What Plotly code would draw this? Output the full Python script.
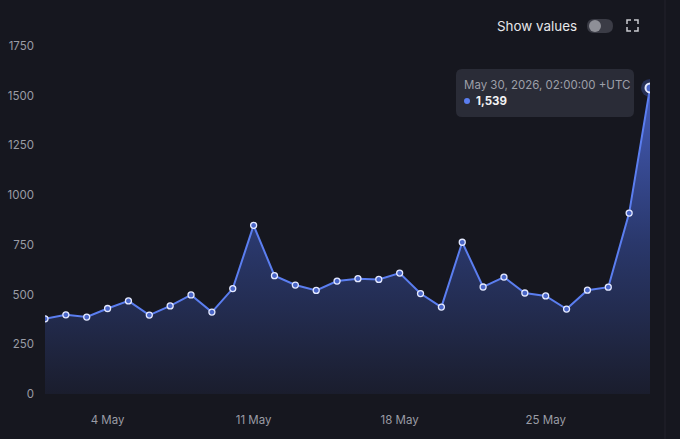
import plotly.graph_objects as go

# daily counts, May 2026
dates = [f"2026-05-{d:02d}" for d in range(1, 31)]
values = [378, 398, 387, 430, 468, 397, 443, 498, 412, 530,
          848, 595, 548, 521, 568, 580, 576, 608, 505, 437,
          763, 538, 588, 508, 493, 427, 522, 537, 910, 1539]

y_ticks = [0, 250, 500, 750, 1000, 1250, 1500, 1750]
x_tickvals = ["2026-05-04", "2026-05-11", "2026-05-18", "2026-05-25"]
x_ticktext = ["4 May", "11 May", "18 May", "25 May"]

hover_date = "May 30, 2026, 02:00:00 +UTC"
hover_value = "1,539"

BG = "#16171f"
LINE = "#5b7ef0"

W, H = 680, 439
L, R, T, B = 45, 30, 46, 45
pw, ph = W - L - R, H - T - B


def px(x):
    return (x - L) / pw


def py(y):
    return (H - B - y) / ph


def rounded(x0, y0, x1, y1, r):
    # rounded rect path in paper coords from pixel coords
    a, b, c, d = px(x0), py(y0), px(x1), py(y1)
    rx, ry = r / pw, r / ph
    return (f"M{a+rx},{b} L{c-rx},{b} Q{c},{b} {c},{b-ry} L{c},{d+ry} "
            f"Q{c},{d} {c-rx},{d} L{a+rx},{d} Q{a},{d} {a},{d+ry} "
            f"L{a},{b-ry} Q{a},{b} {a+rx},{b} Z")


fig = go.Figure()

fig.add_trace(go.Scatter(
    x=dates, y=values, mode="lines+markers",
    line=dict(color=LINE, width=2),
    marker=dict(size=6, color="#4a66c8", line=dict(color="#e4e9ff", width=1.3)),
    fill="tozeroy",
    fillgradient=dict(type="vertical",
                      colorscale=[[0, "rgba(26,29,45,1)"], [0.5, "rgba(42,56,108,1)"],
                                  [1, "rgba(68,92,185,1)"]]),
    hoverinfo="skip", showlegend=False))

# highlighted (hovered) last point
fig.add_trace(go.Scatter(
    x=[dates[-1]], y=[values[-1]], mode="markers",
    marker=dict(size=18, color="rgba(70,95,190,0.35)"),
    hoverinfo="skip", showlegend=False))
fig.add_trace(go.Scatter(
    x=[dates[-1]], y=[values[-1]], mode="markers",
    marker=dict(size=9, color="#4a66c8", line=dict(color="#e4e9ff", width=2)),
    hoverinfo="skip", showlegend=False))

shapes = [
    # tooltip box
    dict(type="path", xref="paper", yref="paper", path=rounded(456, 69, 634, 117, 6),
         fillcolor="#2a2c37", line=dict(width=0), layer="above"),
    # toggle
    dict(type="path", xref="paper", yref="paper", path=rounded(587, 19, 613, 33, 7),
         fillcolor="#3b3c46", line=dict(width=0)),
    dict(type="circle", xref="paper", yref="paper",
         x0=px(589), x1=px(601), y0=py(20), y1=py(32),
         fillcolor="#8e8f97", line=dict(width=0)),
    # divider on the right
    dict(type="line", xref="paper", yref="paper", x0=px(665), x1=px(665), y0=py(0), y1=py(439),
         line=dict(color="#22232c", width=1)),
    # tooltip dot
    dict(type="circle", xref="paper", yref="paper",
         x0=px(464), x1=px(470), y0=py(98), y1=py(104),
         fillcolor="#5b7ef0", line=dict(width=0), layer="above"),
]
# fullscreen icon corners
for (cx, cy, dx, dy) in [(627, 20, 1, 1), (638, 20, -1, 1), (627, 31, 1, -1), (638, 31, -1, -1)]:
    shapes.append(dict(
        type="path", xref="paper", yref="paper",
        path=f"M{px(cx)},{py(cy + 4*dy)} L{px(cx)},{py(cy)} L{px(cx + 4*dx)},{py(cy)}",
        line=dict(color="#c9cad0", width=1.5)))

annotations = [
    dict(text="Show values", xref="paper", yref="paper", x=px(579), y=py(26),
         xanchor="right", yanchor="middle", showarrow=False,
         font=dict(size=13.4, color="#e6e7ea", family="Inter")),
    dict(text=hover_date, xref="paper", yref="paper", x=px(462), y=py(85),
         xanchor="left", yanchor="middle", showarrow=False,
         font=dict(size=11.5, color="#9d9fa8", family="Inter")),
    dict(text="<b>" + hover_value + "</b>", xref="paper", yref="paper", x=px(474), y=py(101),
         xanchor="left", yanchor="middle", showarrow=False,
         font=dict(size=11.5, color="#f2f2f4", family="Inter")),
]

fig.update_layout(
    width=W, height=H,
    margin=dict(l=L, r=R, t=T, b=B, autoexpand=False),
    paper_bgcolor=BG, plot_bgcolor=BG,
    font=dict(family="Inter", color="#9a9ca5", size=11.5),
    shapes=shapes, annotations=annotations,
    xaxis=dict(range=[dates[0], dates[-1]], tickvals=x_tickvals, ticktext=x_ticktext,
               showgrid=False, zeroline=False, showline=False, ticks="", automargin=False,
               ticklabelstandoff=17, tickfont=dict(size=11.5, color="#9a9ca5")),
    yaxis=dict(range=[0, 1750], tickvals=y_ticks, showgrid=False, zeroline=False,
               showline=False, ticks="", ticklabelstandoff=10, automargin=False,
               tickfont=dict(size=11.5, color="#9a9ca5")),
)

fig.write_html("out.html", config={"displayModeBar": False},
               post_script="document.body.style.margin='0';document.body.style.background='#16171f';")
